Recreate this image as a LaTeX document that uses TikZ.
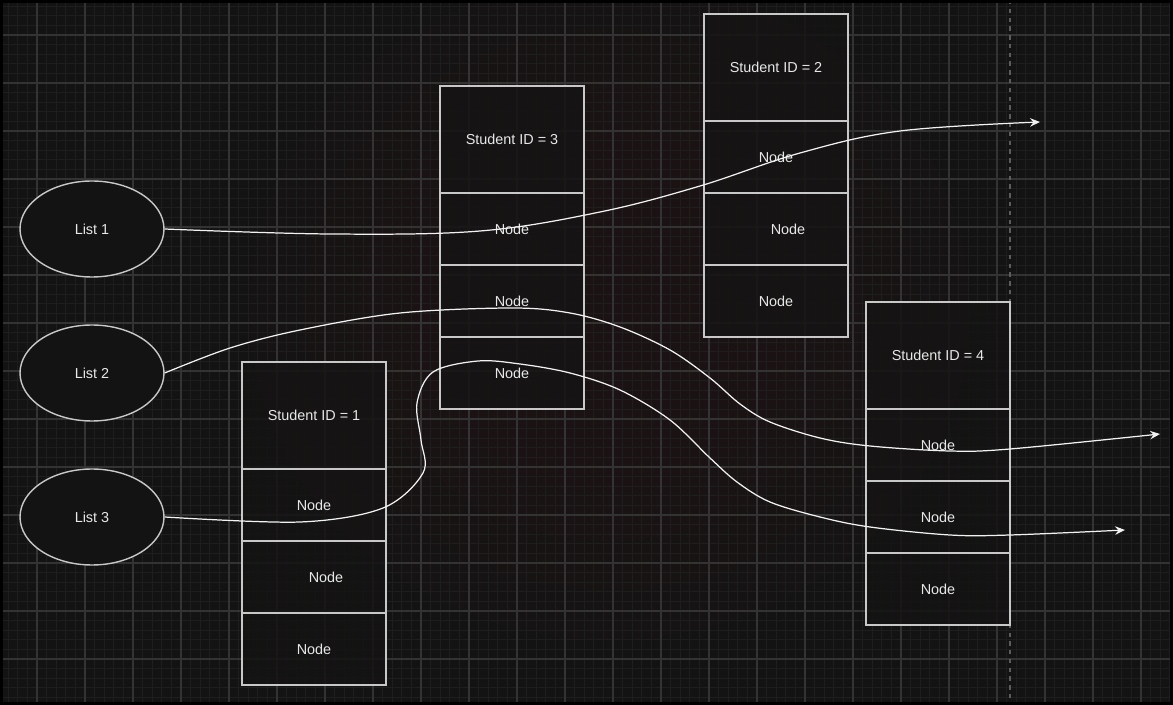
\documentclass[tikz,border=0pt]{standalone}
\usepackage{fontspec}
\setmainfont{Liberation Sans}
\usetikzlibrary{shapes.geometric,arrows.meta}
\definecolor{bgc}{HTML}{131313}
\definecolor{minorc}{HTML}{1E1E1E}
\definecolor{majorc}{HTML}{333333}
\definecolor{strokec}{HTML}{C8C8C8}
\definecolor{edgec}{HTML}{F2F2F2}
\definecolor{textc}{HTML}{E8E8E8}
\definecolor{tintc}{HTML}{2A1A16}
\definecolor{cellc}{HTML}{151413}
\tikzset{
  every node/.style={font=\fontsize{8.2}{10}\selectfont, text=textc},
  minorgrid/.style={draw=minorc, line width=0.5pt},
  majorgrid/.style={draw=majorc, line width=0.6pt},
  listnode/.style={ellipse, draw=strokec, fill=bgc, line width=0.8pt, minimum width=2.88cm, minimum height=1.92cm, inner sep=0pt},
  hdr/.style={rectangle, draw=strokec, fill=cellc, fill opacity=0.85, text opacity=1, line width=0.85pt, minimum width=2.88cm, minimum height=2.14cm, inner sep=0pt},
  cell/.style={rectangle, draw=strokec, fill=cellc, fill opacity=0.85, text opacity=1, line width=0.85pt, minimum width=2.88cm, minimum height=1.44cm, inner sep=0pt},
  shifted/.style={label={[text=textc, xshift=0.24cm]center:Node}},
  link/.style={draw=edgec, line width=0.7pt, -{Stealth[length=0.2cm, width=0.17cm, inset=0.07cm]}},
  pageline/.style={draw=majorc!80!white, line width=0.6pt, dash pattern=on 2.5pt off 2.5pt}
}
\begin{document}
\begin{tikzpicture}[x=0.02cm, y=-0.02cm]
% background
\fill[bgc] (0,0) rectangle (1173,705);
\useasboundingbox (0,0) rectangle (1173,705);
% faint background picture tint
\foreach \r in {1.0,0.85,0.7,0.55}
  \fill[tintc, opacity=0.12] (610,310) ellipse [x radius={\r*360}, y radius={\r*330}];
% grid
\foreach \i in {-3,...,118} \draw[minorgrid] ({37+9.6*\i},0) -- ({37+9.6*\i},705);
\foreach \i in {-3,...,70} \draw[minorgrid] (0,{35+9.6*\i}) -- (1173,{35+9.6*\i});
\foreach \i in {0,...,23} \draw[majorgrid] ({37+48*\i},0) -- ({37+48*\i},705);
\foreach \i in {0,...,14} \draw[majorgrid] (0,{35+48*\i}) -- (1173,{35+48*\i});
\draw[pageline] (1010,0) -- (1010,705);
% list ellipses
\node[listnode] (l1) at (92,229) {List 1};
\node[listnode] (l2) at (92,373) {List 2};
\node[listnode] (l3) at (92,517) {List 3};
% Student 1
\node[hdr] (s1h) at (314,415.5) {Student ID = 1};
\node[cell] (s1a) at (314,505) {Node};
\node[cell, shifted] (s1b) at (314,577) {};
\node[cell] (s1c) at (314,649) {Node};
% Student 3
\node[hdr] (s3h) at (512,139.5) {Student ID = 3};
\node[cell] (s3a) at (512,229) {Node};
\node[cell] (s3b) at (512,301) {Node};
\node[cell] (s3c) at (512,373) {Node};
% Student 2
\node[hdr] (s2h) at (776,67.5) {Student ID = 2};
\node[cell] (s2a) at (776,157) {Node};
\node[cell, shifted] (s2b) at (776,229) {};
\node[cell] (s2c) at (776,301) {Node};
% Student 4
\node[hdr] (s4h) at (938,355.5) {Student ID = 4};
\node[cell] (s4a) at (938,445) {Node};
\node[cell] (s4b) at (938,517) {Node};
\node[cell] (s4c) at (938,589) {Node};
% free ends
\coordinate (e1) at (1040,122);
\coordinate (e2) at (1160,434);
\coordinate (e3) at (1125,530);
% connectors
\draw[link] plot[smooth, tension=0.6] coordinates {(l1.east) (330,234) (480,231) (600,212) (700,186) (800,153) (900,131) (e1)};
\draw[link] plot[smooth, tension=0.55] coordinates {(l2.east) (230,348) (300,330) (400,313) (512,308) (570,313) (620,327) (670,350) (710,378) (740,404) (770,422) (820,438) (870,446) (950,451) (1010,449) (e2)};
\draw[link] plot[smooth, tension=0.55] coordinates {(l3.east) (300,522) (383,508) (423,473) (421,440) (417,403) (433,372) (478,361) (520,364) (570,373) (620,390) (670,420) (710,458) (737,482) (770,502) (820,517) (870,527) (950,535) (1010,535) (e3)};
% frame
\draw[black, line width=2pt] (1,1) rectangle (1172,704);
\end{tikzpicture}
\end{document}
